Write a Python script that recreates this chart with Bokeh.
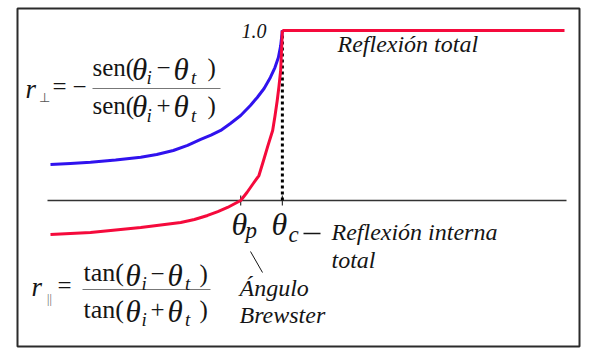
from bokeh.plotting import figure
from bokeh.models import Range1d
from bokeh.core.properties import value
from bokeh.embed import file_html
from bokeh.resources import INLINE

# ---- data ----
# angle of incidence (deg) and reflection coefficients
theta_perp = [0.0, 3.5, 7.0, 11.4, 15.8, 18.6, 21.5, 24.0, 26.3, 28.1, 29.8, 31.5, 33.3, 35.0, 36.2, 37.4, 38.5, 39.3, 39.9, 40.3, 40.6]
r_perp = [0.212, 0.218, 0.225, 0.238, 0.255, 0.271, 0.294, 0.324, 0.359, 0.384, 0.412, 0.453, 0.500, 0.559, 0.606, 0.659, 0.724, 0.782, 0.841, 0.910, 1.0]

theta_par = [0.0, 7.0, 15.8, 22.8, 25.2, 27.5, 29.3, 31.0, 33.3, 34.4, 35.5, 36.5, 37.3, 38.1, 38.9, 39.3, 39.7, 40.0, 40.3, 40.6]
r_par = [-0.200, -0.188, -0.159, -0.129, -0.112, -0.088, -0.065, -0.041, 0.0, 0.047, 0.100, 0.147, 0.235, 0.326, 0.412, 0.495, 0.588, 0.670, 0.765, 1.0]

theta_total = [40.6, 90.0]
r_total = [1.0, 1.0]

theta_p = 33.3   # Brewster angle
theta_c = 40.6   # critical angle
r_top = 1.0

# ---- page-pixel to data mapping ----
X0, SX = 50.0, 514.0 / 90.0     # theta = 0 at page x 50, 90 deg at page x 564
Y0, SY = 200.0, 170.0           # r = 0 at page y 200, r = 1 at page y 30

def dx(px):
    return (px - X0) / SX

def dy(py):
    return (Y0 - py) / SY

W, H = 595, 355
L, T, FW, FH = 17, 8, 562, 338

p = figure(width=W, height=H,
           x_range=Range1d(dx(L), dx(L + FW)), y_range=Range1d(dy(T + FH), dy(T)),
           output_backend="svg", toolbar_location=None,
           x_axis_location=None, y_axis_location=None,
           min_border_left=L, min_border_right=W - L - FW,
           min_border_top=T, min_border_bottom=H - T - FH)
p.grid.visible = False
p.outline_line_color = "#2b2b2b"
p.outline_line_width = 2
p.background_fill_color = "white"
p.border_fill_color = "white"

BLUE = "#3012ee"
RED = "#f50a3c"
INK = "#151515"

# horizontal axis line
p.segment(x0=[dx(47)], y0=[0], x1=[dx(566)], y1=[0], line_color="#333333", line_width=1.5)
# ticks at theta_p, theta_c
p.segment(x0=[theta_p, theta_c], y0=[dy(205), dy(205)], x1=[theta_p, theta_c], y1=[dy(195), dy(195)],
          line_color="#333333", line_width=1.2)

# dotted line at critical angle
p.segment(x0=[theta_c], y0=[0], x1=[theta_c], y1=[r_top], line_color="black",
          line_width=3, line_dash="3 3")

# curves
p.line(theta_perp, r_perp, line_color=BLUE, line_width=3, line_join="round")
p.line(theta_par, r_par, line_color=RED, line_width=3, line_join="round")
p.line(theta_total, r_total, line_color=RED, line_width=3)

# fraction bars and small connector lines
p.segment(x0=[dx(92), dx(82)], y0=[dy(88), dy(289)], x1=[dx(220), dx(210)], y1=[dy(88), dy(289)],
          line_color="#777777", line_width=1)
p.segment(x0=[dx(303)], y0=[dy(233)], x1=[dx(320)], y1=[dy(233)], line_color=INK, line_width=1.3)
p.segment(x0=[dx(250)], y0=[dy(251)], x1=[dx(262)], y1=[dy(272)], line_color=INK, line_width=1)

SERIF = "Liberation Serif"

def lab(px, py, text, size, style="normal", color=INK):
    # py is the wanted baseline (page px); the renderer anchors near the glyph middle
    yy = py - 0.36 * size
    p.text(x=[dx(px)], y=[dy(yy)], text=[text], text_font=value(SERIF),
           text_font_size=value(f"{size}px"), text_font_style=style,
           text_color=color, text_align="left", text_baseline="alphabetic")

# r_perp formula
lab(25, 98, "r", 27, "italic")
lab(38.5, 101.5, "\u22a5", 13, "normal", "#555555")
lab(52, 95, "=", 25)
lab(72, 95, "\u2212", 25)
for nb, op in ((76, "\u2212"), (113.5, "+")):
    lab(92, nb, "sen(", 25)
    lab(131.5, nb + 4, "\u03b8", 31, "italic")
    lab(146, nb + 8, "i", 19, "italic")
    lab(156, nb, op, 25)
    lab(173, nb + 4, "\u03b8", 31, "italic")
    lab(190.5, nb + 8, "t", 19, "italic")
    lab(207, nb, ")", 25)

# r_par formula
lab(31, 296.7, "r", 27, "italic")
lab(46.5, 303, "||", 12, "normal", "#666666")
lab(57, 293.5, "=", 25)
for nb, op in ((281.7, "\u2212"), (318.3, "+")):
    lab(83, nb, "tan(", 26)
    lab(125, nb + 4, "\u03b8", 31, "italic")
    lab(141, nb + 8, "i", 19, "italic")
    lab(150, nb, op, 25)
    lab(167, nb + 4, "\u03b8", 31, "italic")
    lab(184.5, nb + 8, "t", 19, "italic")
    lab(199, nb, ")", 25)

# other texts
lab(241, 38, "1.0", 20, "italic")
lab(337, 52, "Reflexión total", 24, "italic")
lab(231, 235, "\u03b8", 32, "italic")
lab(245, 238.5, "p", 23, "italic")
lab(271, 235, "\u03b8", 32, "italic")
lab(288, 242.5, "c", 23, "italic")
lab(331, 240, "Reflexión interna", 24, "italic")
lab(331, 268, "total", 24, "italic")
lab(239, 296, "Ángulo", 24, "italic")
lab(239, 323, "Brewster", 24, "italic")

open("out.html", "w").write(file_html(p, INLINE))
